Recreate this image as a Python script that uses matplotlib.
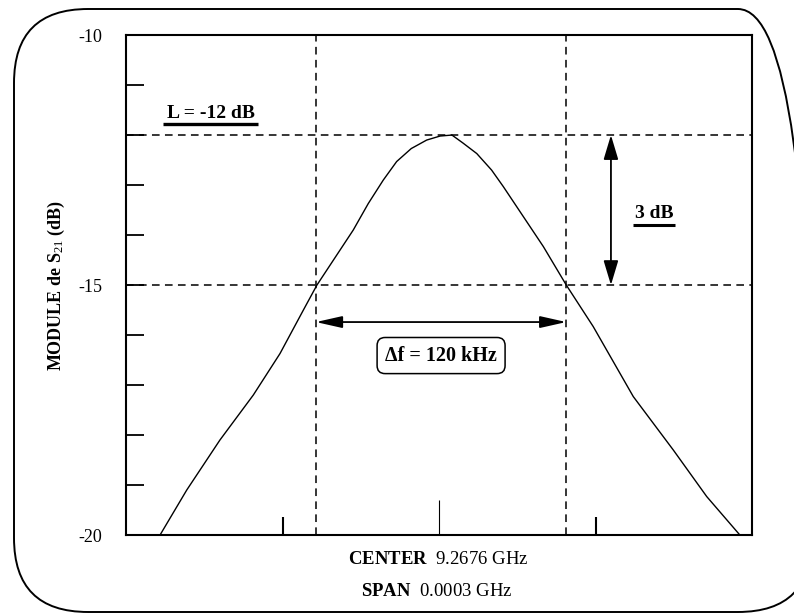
import matplotlib.pyplot as plt
from matplotlib.patches import FancyBboxPatch

# ================= STYLE =================
plt.rcParams['font.family'] = ['Liberation Serif', 'DejaVu Serif']
plt.rcParams['mathtext.fontset'] = 'custom'
plt.rcParams['mathtext.rm'] = 'Liberation Serif'
plt.rcParams['mathtext.it'] = 'Liberation Serif:italic'
plt.rcParams['mathtext.bf'] = 'Liberation Serif:bold'

# ================= DATA =================
# frequency offset from the centre (kHz), span 300 kHz
freq_khz = [-150, -133.7, -120.9, -105.0, -89.0, -76.2, -65.0, -58.5, -41.1,
            -33.9, -26.7, -20.3, -13.3, -5.9, 0.5, 6.2, 11.5, 18.1, 25.2,
            30.8, 37.2, 43.6, 50.0, 61.0, 73.9, 93.1, 112.3, 128.3, 144.2, 150]
s21_db = [-20.0, -20.0, -19.1, -18.1, -17.2, -16.37, -15.5, -15.0, -13.9,
          -13.37, -12.9, -12.53, -12.27, -12.1, -12.02, -12.0, -12.16, -12.37, -12.7,
          -13.03, -13.43, -13.83, -14.23, -15.0, -15.83, -17.23, -18.3, -19.23, -20.0, -20.0]

level_max = -12        # L = -12 dB
level_3db = -15        # L - 3 dB
f_3db = [-59, 61]      # -3 dB points (kHz)
x_ticks = [-75, 75]
x_center_tick = [0]
y_ticks = list(range(-20, -9))
y_ticklabels = ['-20', '', '', '', '', '-15', '', '', '', '', '-10']

center_txt = r"$\mathbf{CENTER}$  9.2676 GHz"
span_txt = r"$\mathbf{SPAN}$  0.0003 GHz"

# ================= FIGURE =================
fig = plt.figure(figsize=(7.94, 6.15), dpi=100)
ax = fig.add_axes([0.1587, 0.130, 0.7884, 0.813])

# rounded outer frame (inches), right edge runs past the image
frame = FancyBboxPatch((0.14, 0.03), 7.98, 6.03,
                       boxstyle="round,pad=0,rounding_size=0.74",
                       transform=fig.dpi_scale_trans, fill=False,
                       edgecolor='black', linewidth=1.4, clip_on=False)
fig.patches.append(frame)

ax.plot(freq_khz, s21_db, color='black', linewidth=1.0)

dash = (0, (5, 3.5))
for y in (level_max, level_3db):
    ax.axhline(y, color='black', linestyle=dash, linewidth=1.1)
for x in f_3db:
    ax.axvline(x, color='black', linestyle=dash, linewidth=1.1)

# horizontal delta-f arrow
y_arrow = -15.74
ax.annotate('', xy=(f_3db[1], y_arrow), xytext=(f_3db[0], y_arrow),
            arrowprops=dict(arrowstyle='<|-|>,head_length=1.6,head_width=0.36',
                            mutation_scale=10, color='black', lw=1.3,
                            shrinkA=0, shrinkB=0))
ax.text(sum(f_3db) / 2, -16.41, "\u0394f = 120 kHz", fontsize=14.5, fontweight='bold',
        ha='center', va='center',
        bbox=dict(boxstyle='round,pad=0.4', facecolor='white', edgecolor='black', lw=1.1))

# vertical 3 dB arrow
x_arrow = 82.4
ax.annotate('', xy=(x_arrow, level_3db), xytext=(x_arrow, level_max),
            arrowprops=dict(arrowstyle='<|-|>,head_length=1.5,head_width=0.45',
                            mutation_scale=10, color='black', lw=1.3,
                            shrinkA=0, shrinkB=0))
ax.text(103, -13.56, "3 dB", fontsize=14, fontweight='bold', ha='center', va='center')
ax.plot([92.9, 113.1], [-13.8, -13.8], color='black', lw=2.2, solid_capstyle='butt')

# L = -12 dB label
ax.text(-109.5, -11.56, "L = -12 dB", fontsize=14, fontweight='bold', ha='center', va='center')
ax.plot([-132.3, -86.8], [-11.78, -11.78], color='black', lw=2.4, solid_capstyle='butt')

# axes
ax.set_xlim(-150, 150)
ax.set_ylim(-20, -10)
ax.set_xticks(x_ticks)
ax.set_xticks(x_center_tick, minor=True)
ax.set_xticklabels([])
ax.tick_params(axis='x', which='major', direction='in', length=13, width=1.5, bottom=True, top=False)
ax.tick_params(axis='x', which='minor', direction='in', length=25, width=0.8, bottom=True, top=False)
ax.set_yticks(y_ticks)
ax.set_yticklabels(y_ticklabels)
ax.tick_params(axis='y', direction='in', length=13, width=1.3, labelsize=13, pad=17)
for s in ax.spines.values():
    s.set_linewidth(1.5)

ax.set_ylabel(r"MODULE de S$_{21}$ (dB)", fontsize=13, fontweight='bold', labelpad=8)

fig.text(438 / 794, 1 - 560 / 615, center_txt, fontsize=13.5, ha='center', va='center')
fig.text(437 / 794, 1 - 592 / 615, span_txt, fontsize=13.5, ha='center', va='center')

fig.savefig("out.png", dpi=100)
